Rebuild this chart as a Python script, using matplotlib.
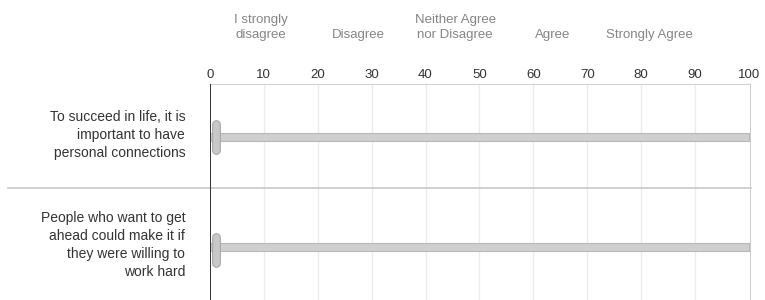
import matplotlib.pyplot as plt

plt.rcParams['font.family'] = ['Liberation Sans', 'DejaVu Sans']

statements = [
    "To succeed in life, it is\nimportant to have\npersonal connections",
    "People who want to get\nahead could make it if\nthey were willing to\nwork hard",
]
slider_values = [0, 0]
scale_max = 100
tick_values = list(range(0, 101, 10))
scale_labels = ["I strongly\ndisagree", "Disagree", "Neither Agree\nnor Disagree", "Agree", "Strongly Agree"]
scale_label_pos = [9.5, 27.5, 45.5, 63.5, 81.5]

fig = plt.figure(figsize=(7.65, 3.0), dpi=100)
# axes area: x 210..751 px, y 84..300 px
ax = fig.add_axes([210 / 765, 0, 541 / 765, 216 / 300])
ax.set_xlim(0, 100.4)
ax.set_ylim(1.482, -0.482)

for s in ax.spines.values():
    s.set_visible(False)

# light vertical grid
for t in tick_values[1:-1]:
    ax.axvline(t, color='#ececec', lw=1, zorder=0)
ax.axvline(0, color='#333333', lw=1.4, zorder=3)
ax.axvline(100.4, color='#c4c4c4', lw=1.2, zorder=1)
ax.axhline(-0.482, color='#c8c8c8', lw=1.2, zorder=1)

# separator between statements
ax.plot([-37.5, 100.4], [0.464, 0.464], color='#c8c8c8', lw=1.2, clip_on=False, zorder=1)

ax.xaxis.tick_top()
ax.set_xticks(tick_values)
ax.set_xticklabels([str(t) for t in tick_values], fontsize=9.5, color='#333333')
ax.tick_params(axis='x', length=0, pad=2.5)
ax.set_yticks([])

for lbl, x in zip(scale_labels, scale_label_pos):
    ax.text(x, 1.213, lbl, transform=ax.get_xaxis_transform(), ha='center', va='baseline',
            fontsize=9.5, color='#858585', linespacing=1.35, clip_on=False)

for i, (stmt, val) in enumerate(zip(statements, slider_values)):
    y = i
    ax.text(-4.6, y - 0.02, stmt, ha='right', va='center', fontsize=10, color='#333333',
            linespacing=1.35, clip_on=False)
    # track
    ax.barh(y, scale_max - val, left=val, height=0.08, color='#cfcfcf',
            edgecolor='#b8b8b8', linewidth=0.8, zorder=2)
    # handle
    hx = val + 1.2
    hy = y + (0.0 if i == 0 else 0.03)
    ax.plot([hx, hx], [hy - 0.12, hy + 0.12], color='#a9a9a9', lw=6.4,
            solid_capstyle='round', zorder=4)
    ax.plot([hx, hx], [hy - 0.12, hy + 0.12], color='#c8c8c8', lw=4.8,
            solid_capstyle='round', zorder=5)

fig.savefig('out.png', dpi=100)
